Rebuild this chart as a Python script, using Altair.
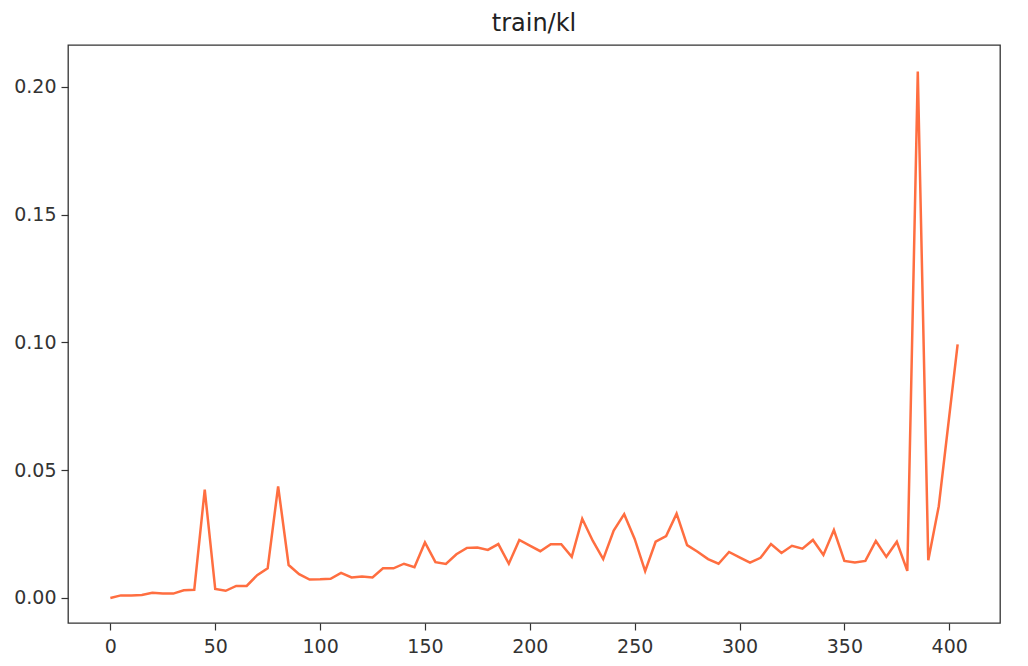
import altair as alt
import pandas as pd

steps = [0, 5, 10, 15, 20, 25, 30, 35, 40, 45, 50, 55, 60, 65, 70, 75, 80, 85, 90, 95,
         100, 105, 110, 115, 120, 125, 130, 135, 140, 145, 150, 155, 160, 165, 170, 175,
         180, 185, 190, 195, 200, 205, 210, 215, 220, 225, 230, 235, 240, 245, 250, 255,
         260, 265, 270, 275, 280, 285, 290, 295, 300, 305, 310, 315, 320, 325, 330, 335,
         340, 345, 350, 355, 360, 365, 370, 375, 380, 385, 390, 395, 404]
kl = [0.0000, 0.0010, 0.0010, 0.0012, 0.0020, 0.0017, 0.0017, 0.0030, 0.0032, 0.0424,
      0.0035, 0.0028, 0.0047, 0.0047, 0.0089, 0.0116, 0.0437, 0.0129, 0.0093, 0.0072,
      0.0073, 0.0075, 0.0098, 0.0080, 0.0084, 0.0080, 0.0116, 0.0116, 0.0134, 0.0120,
      0.0217, 0.0140, 0.0133, 0.0171, 0.0196, 0.0197, 0.0188, 0.0211, 0.0134, 0.0227,
      0.0205, 0.0183, 0.0210, 0.0210, 0.0161, 0.0310, 0.0224, 0.0152, 0.0264, 0.0328,
      0.0231, 0.0105, 0.0220, 0.0242, 0.0330, 0.0207, 0.0181, 0.0152, 0.0134, 0.0180,
      0.0159, 0.0138, 0.0157, 0.0211, 0.0176, 0.0204, 0.0193, 0.0227, 0.0168, 0.0266,
      0.0145, 0.0139, 0.0145, 0.0223, 0.0161, 0.0220, 0.0106, 0.2060, 0.0148, 0.0359,
      0.0992]

x_ticks = [0, 50, 100, 150, 200, 250, 300, 350, 400]
y_ticks = [0.0, 0.05, 0.10, 0.15, 0.20]

df = pd.DataFrame({"step": steps, "kl": kl})

FONT = "DejaVu Sans"

line = alt.Chart(df).mark_line(color="#ff6e40", strokeWidth=2.5, clip=True).encode(
    x=alt.X("step:Q",
            scale=alt.Scale(domain=[-20.2, 424.2], nice=False, zero=False),
            axis=alt.Axis(values=x_ticks, title=None, grid=False, format="d",
                          labelFont=FONT, labelFontSize=19, labelColor="#333",
                          tickColor="#333", tickSize=7, tickWidth=1.2, labelPadding=7,
                          domain=False)),
    y=alt.Y("kl:Q",
            scale=alt.Scale(domain=[-0.0098, 0.2164], nice=False, zero=False),
            axis=alt.Axis(values=y_ticks, title=None, grid=False, format=".2f",
                          labelFont=FONT, labelFontSize=19, labelColor="#333",
                          tickColor="#333", tickSize=7, tickWidth=1.2, labelPadding=5,
                          domain=False)),
)

chart = line.properties(
    width=932,
    height=578,
    title=alt.TitleParams("train/kl", font=FONT, fontSize=24, fontWeight="normal",
                          color="#222", offset=9),
    autosize=alt.AutoSizeParams(type="none"),
    padding={"left": 60, "top": 37, "right": 20, "bottom": 40},
).configure_view(stroke="#333", strokeWidth=1.3)

chart.save("out.html", embed_options={"renderer": "svg", "actions": False})
